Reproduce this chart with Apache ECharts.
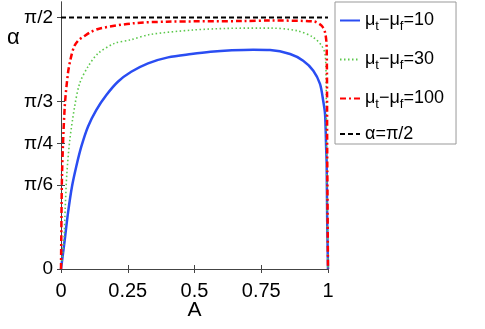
<!DOCTYPE html>
<html><head><meta charset="utf-8">
<script src="https://cdn.jsdelivr.net/npm/echarts@6/dist/echarts.min.js"></script>
<style>html,body{margin:0;padding:0;background:#fff}#c{width:485px;height:329px}</style>
</head><body><div id="c"></div>
<script>
// Data
const blueA     = [0, 0.0139, 0.026, 0.041, 0.057, 0.076, 0.101, 0.132, 0.17, 0.213, 0.263, 0.326, 0.401, 0.488, 0.56, 0.64, 0.72, 0.783, 0.858, 0.907, 0.945, 0.97, 0.982, 0.989, 0.993, 0.995, 0.997, 1];
const blueAlpha = [0, 0.181, 0.348, 0.514, 0.639, 0.764, 0.889, 0.993, 1.087, 1.17, 1.232, 1.285, 1.322, 1.343, 1.357, 1.366, 1.37, 1.368, 1.343, 1.301, 1.239, 1.156, 1.051, 0.968, 0.76, 0.656, 0.3, 0];

const greenA     = [0, 0.011, 0.016, 0.022, 0.033, 0.051, 0.07, 0.101, 0.139, 0.201, 0.257, 0.333, 0.494, 0.622, 0.745, 0.783, 0.883, 0.945, 0.976, 0.989, 0.993, 0.994, 0.996, 1];
const greenAlpha = [0, 0.181, 0.389, 0.598, 0.806, 1.014, 1.16, 1.264, 1.347, 1.41, 1.43, 1.465, 1.493, 1.503, 1.505, 1.505, 1.489, 1.447, 1.395, 1.343, 1.176, 0.868, 0.431, 0];

const redA     = [0, 0.001, 0.004, 0.014, 0.026, 0.035, 0.049, 0.066, 0.084, 0.113, 0.146, 0.27, 0.396, 0.682, 0.783, 0.945, 0.976, 0.989, 0.995, 0.997, 1];
const redAlpha = [0, 0.181, 0.598, 1.014, 1.222, 1.305, 1.389, 1.43, 1.451, 1.482, 1.503, 1.535, 1.545, 1.549, 1.552, 1.547, 1.52, 1.478, 1.385, 0.743, 0];

const refA     = [0, 1];
const refAlpha = [1.5708, 1.5708];

const yTickValues = [0, Math.PI / 6, Math.PI / 4, Math.PI / 3, Math.PI / 2];
const yTickLabels = ['0', 'π/6', 'π/4', 'π/3', 'π/2'];

const seriesNames  = ['mu10', 'mu30', 'mu100', 'ref'];
const legendLabels = [
  '{m|μ}{s|t}{m|−μ}{s|f}{m|=10}',
  '{m|μ}{s|t}{m|−μ}{s|f}{m|=30}',
  '{m|μ}{s|t}{m|−μ}{s|f}{m|=100}',
  '{m|α=π/2}'
];

const FONT = 'Liberation Sans, Arial, sans-serif';
const pair = (xs, ys) => xs.map((x, i) => [x, ys[i]]);

const chart = echarts.init(document.getElementById('c'), null, {renderer: 'canvas'});
const axisColor = '#444';
chart.setOption({
  animation: false,
  backgroundColor: '#fff',
  grid: {left: 61, right: 157, top: 2, bottom: 60, containLabel: false},
  xAxis: [{
    type: 'value', min: 0, max: 1, interval: 0.25,
    name: 'A', nameLocation: 'middle', nameGap: 31, nameMoveOverlap: false,
    nameTextStyle: {fontFamily: FONT, fontSize: 21, color: '#000'},
    axisLine: {show: true, lineStyle: {color: axisColor, width: 1}},
    axisTick: {show: true, inside: true, length: 4, lineStyle: {color: axisColor}},
    axisLabel: {fontFamily: FONT, fontSize: 20, color: '#000', margin: 12},
    splitLine: {show: false}
  }, {
    type: 'value', min: 0, max: 1, interval: 0.25, position: 'top',
    axisLine: {show: true, lineStyle: {color: axisColor, width: 1}},
    axisTick: {show: true, inside: true, length: 4, lineStyle: {color: axisColor}},
    axisLabel: {show: false}, splitLine: {show: false}
  }],
  yAxis: [{
    type: 'value', min: 0, max: 1.668,
    axisLine: {show: true, lineStyle: {color: axisColor, width: 1}},
    axisTick: {show: true, inside: true, length: 4, customValues: yTickValues, lineStyle: {color: axisColor}},
    axisLabel: {
      fontFamily: FONT, fontSize: 19, color: '#000', margin: 8,
      customValues: yTickValues,
      formatter: v => {
        const i = yTickValues.findIndex(t => Math.abs(t - v) < 1e-6);
        return i >= 0 ? yTickLabels[i] : '';
      }
    },
    splitLine: {show: false}
  }, {
    type: 'value', min: 0, max: 1.668, position: 'right',
    axisLine: {show: true, lineStyle: {color: axisColor, width: 1}},
    axisTick: {show: true, inside: true, length: 4, customValues: yTickValues, lineStyle: {color: axisColor}},
    axisLabel: {show: false}, splitLine: {show: false}
  }],
  legend: {
    orient: 'vertical', left: 335, top: 2,
    padding: [6, 12, 1, 4],
    itemWidth: 20, itemHeight: 14, itemGap: 14,
    borderColor: '#999', borderWidth: 1, backgroundColor: '#fff',
    itemStyle: {opacity: 0},
    lineStyle: {opacity: 1},
    data: seriesNames,
    formatter: name => legendLabels[seriesNames.indexOf(name)],
    textStyle: {
      fontFamily: FONT, color: '#000',
      rich: {
        m: {fontFamily: FONT, fontSize: 18, lineHeight: 26, color: '#000'},
        s: {fontFamily: FONT, fontSize: 13, lineHeight: 14, padding: [12, 0, 0, 0], color: '#000'}
      }
    }
  },
  graphic: [{
    type: 'text', left: 7, top: 27,
    style: {text: 'α', fontFamily: FONT, fontSize: 22, fill: '#000'}
  }],
  series: [
    {name: seriesNames[0], type: 'line', data: pair(blueA, blueAlpha), showSymbol: false, symbol: 'none',
     smooth: 0.3, lineStyle: {color: '#2a4df2', width: 2.5}, itemStyle: {color: '#2a4df2'}},
    {name: seriesNames[1], type: 'line', data: pair(greenA, greenAlpha), showSymbol: false, symbol: 'none',
     smooth: 0.3, lineStyle: {color: '#5cc84c', width: 1.6, type: [1.5, 2.5]}, itemStyle: {color: '#5cc84c'}},
    {name: seriesNames[2], type: 'line', data: pair(redA, redAlpha), showSymbol: false, symbol: 'none',
     smooth: 0.3, lineStyle: {color: '#ff0000', width: 2.5, type: [6, 3, 2, 3]}, itemStyle: {color: '#ff0000'}},
    {name: seriesNames[3], type: 'line', data: pair(refA, refAlpha), showSymbol: false, symbol: 'none',
     lineStyle: {color: '#000', width: 2, type: [5, 3]}, itemStyle: {color: '#000'}}
  ]
});
</script>
</body></html>
